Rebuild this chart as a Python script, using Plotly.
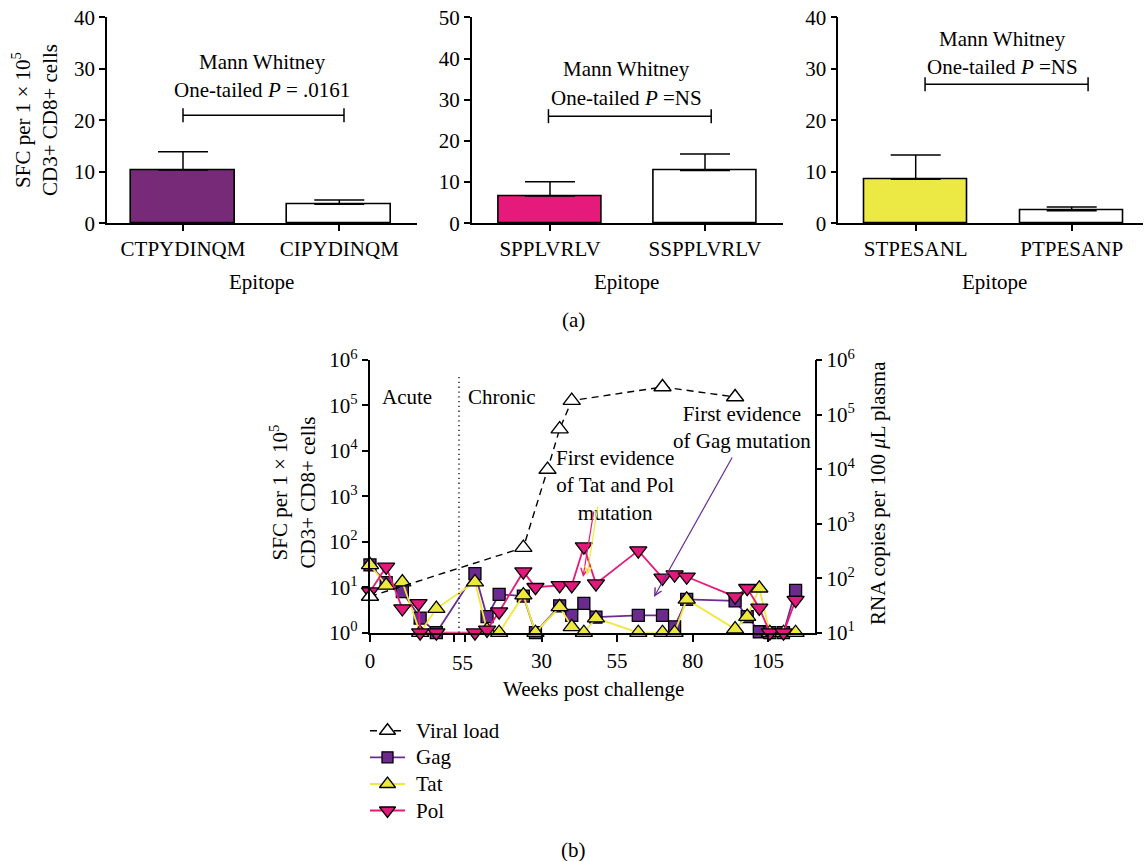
import plotly.graph_objects as go

W, H = 1145, 861
FONT = "Liberation Serif"
FS = 21

# ---------------- (a) data ----------------
EPI_1 = ["CTPYDINQM", "CIPYDINQM"]
MEAN_1 = [10.35, 3.7]
ERR_1 = [3.55, 0.83]
EPI_2 = ["SPPLVRLV", "SSPPLVRLV"]
MEAN_2 = [6.6, 12.8]
ERR_2 = [3.5, 4.0]
EPI_3 = ["STPESANL", "PTPESANP"]
MEAN_3 = [8.55, 2.45]
ERR_3 = [4.7, 0.72]
P_TEXT = ["One-tailed <i>P</i> = .0161", "One-tailed <i>P</i> =NS", "One-tailed <i>P</i> =NS"]
BRACKET_Y = [21, 26, 27]
BRACKET_X = [[0, 1.03], [-0.01, 1.04], [0.06, 1.105]]
YMAX = [40, 50, 40]
BAR_COLORS = ["#772a78", "#e51a7a", "#ede944"]

# ---------------- (b) data ----------------
ACUTE_DAYS = [0, 10, 20, 31, 41]
CHRONIC_WEEKS = [8, 12, 16, 24, 28, 36, 40, 44, 48, 62, 70, 74, 78, 94, 98, 102, 105.5, 110, 114]
GAG = [31, 12.6, 8, 2.1, 1,
       20, 2.25, 7, 6.4, 1, 3.9, 2.4, 4.4, 2.2, 2.4, 2.4, 1.35, 5.4, 5, 2.25, 1.05, 1, 1, 8.5]
TAT = [31, 11, 13, 1, 3.4,
       13, 1.15, 1, 6.7, 1, 3.7, 1.35, 1, 2.1, 1, 1, 1, 5.4, 1.2, 2.25, 9.5, 1, 1, 1]
POL_DAYS = [0, 10, 20, 30, 31, 41]
POL = [8, 28, 3.4, 4.4, 1, 1,
       1, 1.15, 2.9, 22, 10, 11, 11, 78, 12, 64, 16, 19, 17, 6.2, 9.5, 3.5, 1, 1, 5.2]
VL_DAYS = [0]
VL_WEEKS = [24, 32, 36, 40, 70, 94]
VL = [46, 363, 9800, 54000, 180000, 320000, 210000]
SERIES_NAMES = ["Viral load", "Gag", "Tat", "Pol"]

# broken x-axis: acute segment in days placed before the chronic (weeks) segment
ACUTE_ORIGIN = -26.7
DAY_UNIT = 0.535


def xpos(days, weeks):
    return [ACUTE_ORIGIN + d * DAY_UNIT for d in days] + list(weeks)


def PX(px):
    return px / W


def PY(py):
    return 1 - py / H


fig = go.Figure()

axis_common = dict(showline=True, linecolor="black", linewidth=1.5, ticks="outside",
                   tickcolor="black", tickwidth=1.5, ticklen=6, showgrid=False, zeroline=False,
                   automargin=False,
                   tickfont=dict(family=FONT, size=FS, color="black"))

panels = [
    (EPI_1, MEAN_1, ERR_1, (107, 417), (183, 339.3)),
    (EPI_2, MEAN_2, ERR_2, (471.7, 783), (550, 705)),
    (EPI_3, MEAN_3, ERR_3, (838.3, 1143), (915.7, 1071.7)),
]
y_top, y_bot = 17.3, 223.3
for i, (cats, means, errs, (d0, d1), (t0, t1)) in enumerate(panels):
    n = i + 1
    xa = "x" if n == 1 else f"x{n}"
    ya = "y" if n == 1 else f"y{n}"
    sp = t1 - t0
    fig.add_trace(go.Bar(
        x=[0, 1], y=means, width=0.663, xaxis=xa, yaxis=ya,
        marker=dict(color=[BAR_COLORS[i], "white"], line=dict(color="black", width=1.6)),
        error_y=dict(type="data", symmetric=False, array=errs, arrayminus=[0, 0],
                     color="black", thickness=1.5, width=25),
        showlegend=False, hoverinfo="skip"))
    fig.add_trace(go.Scatter(
        x=BRACKET_X[i], y=[BRACKET_Y[i]] * 2, xaxis=xa, yaxis=ya, mode="lines+markers",
        line=dict(color="black", width=1.5),
        marker=dict(symbol="line-ns-open", size=10, line=dict(color="black", width=1.5)),
        showlegend=False, hoverinfo="skip", cliponaxis=False))
    fig.layout[f"xaxis{n if n > 1 else ''}"] = dict(
        axis_common, domain=[PX(d0), PX(d1)], anchor=ya,
        range=[-(t0 - d0) / sp, 1 + (d1 - t1) / sp],
        tickvals=[0, 1], ticktext=cats)
    fig.layout[f"yaxis{n if n > 1 else ''}"] = dict(
        axis_common, domain=[PY(y_bot), PY(y_top)], anchor=xa,
        range=[0, YMAX[i]], dtick=10)

# ---------------- (b) ----------------
X0, X1 = 369.5, 814.5
YB, YT = 632.7, 360
xr = [30 - (541.5 - X0) / 3.025, 30 + (X1 - 541.5) / 3.025]
brk_l = 30 + (454 - 541.5) / 3.025
brk_r = 30 + (465 - 541.5) / 3.025

styles = [
    dict(line=dict(color="black", width=1.4, dash="7px,5px"),
         marker=dict(symbol="triangle-up", size=15, color="white", line=dict(color="black", width=1.4))),
    dict(line=dict(color="#6a2c91", width=1.8),
         marker=dict(symbol="square", size=12, color="#6a2a8e", line=dict(color="black", width=1.3))),
    dict(line=dict(color="#f0e83c", width=1.8),
         marker=dict(symbol="triangle-up", size=15, color="#ece83e", line=dict(color="black", width=1.3))),
    dict(line=dict(color="#e8197a", width=1.8),
         marker=dict(symbol="triangle-down", size=15, color="#e0197b", line=dict(color="black", width=1.3))),
]
series = [
    (xpos(VL_DAYS, VL_WEEKS), VL, "y5"),
    (xpos(ACUTE_DAYS, CHRONIC_WEEKS), GAG, "y4"),
    (xpos(ACUTE_DAYS, CHRONIC_WEEKS), TAT, "y4"),
    (xpos(POL_DAYS, CHRONIC_WEEKS), POL, "y4"),
]
for (xs, ys, yax), st, nm in zip(series, styles, SERIES_NAMES):
    fig.add_trace(go.Scatter(x=xs, y=ys, name=nm, xaxis="x4", yaxis=yax, mode="lines+markers",
                             cliponaxis=False, showlegend=False, **st))

fig.layout.xaxis4 = dict(axis_common, domain=[PX(X0), PX(X1)], anchor="y4", range=xr,
                         ticklen=8,
                         tickvals=[ACUTE_ORIGIN, brk_l, brk_r, 30, 55, 80, 105],
                         ticktext=["0", "", "", "30", "55", "80", "105"])
sup = lambda k: f"10<sup>{k}</sup>"
fig.layout.yaxis4 = dict(axis_common, domain=[PY(YB), PY(YT)], anchor="x4", type="log",
                         range=[0, 6], tickvals=[10 ** k for k in range(7)],
                         ticktext=[sup(k) for k in range(7)])
fig.layout.yaxis5 = dict(axis_common, overlaying="y4", side="right", anchor="x4", type="log",
                         range=[1, 6], tickvals=[10 ** k for k in range(1, 7)],
                         ticktext=[sup(k) for k in range(1, 7)])

# ---- custom legend on a hidden pixel-unit axis ----
LG_X0, LG_X1, LG_Y0, LG_Y1 = 360, 520, 715, 830
fig.layout.xaxis6 = dict(domain=[PX(LG_X0), PX(LG_X1)], range=[LG_X0, LG_X1], visible=False,
                         anchor="y6", fixedrange=True)
fig.layout.yaxis6 = dict(domain=[PY(LG_Y1), PY(LG_Y0)], range=[LG_Y1, LG_Y0], visible=False,
                         anchor="x6", fixedrange=True)
legend_rows = [730.7, 757.3, 784, 810.5]
for st, ry in zip(styles, legend_rows):
    fig.add_trace(go.Scatter(x=[370, 405], y=[ry, ry], xaxis="x6", yaxis="y6", mode="lines",
                             line=st["line"], showlegend=False, hoverinfo="skip", cliponaxis=False))
    fig.add_trace(go.Scatter(x=[387.5], y=[ry], xaxis="x6", yaxis="y6", mode="markers",
                             marker=dict(st["marker"], size=st["marker"]["size"] - 1),
                             showlegend=False, hoverinfo="skip", cliponaxis=False))

shapes = [dict(type="line", xref="x4", yref="paper", x0=ACUTE_ORIGIN + 55 * DAY_UNIT,
               x1=ACUTE_ORIGIN + 55 * DAY_UNIT, y0=PY(YB), y1=PY(376.7),
               line=dict(color="black", width=1.3, dash="1.3px,3.5px"))]

ann = []


def txt(x, y, s, size=FS, angle=0, xanchor="center"):
    ann.append(dict(x=PX(x), y=PY(y), xref="paper", yref="paper", text=s, showarrow=False,
                    textangle=angle, xanchor=xanchor, yanchor="middle",
                    font=dict(family=FONT, size=size, color="black")))


# (a) texts
ytitle = "SFC per 1 × 10<sup>5</sup><br>CD3+ CD8+ cells"
txt(35, 120, ytitle, angle=-90)
for (cx, y1, y2), p in zip([(262, 62.3, 90), (626.7, 69.3, 98.3), (1002.3, 39.3, 67.3)], P_TEXT):
    txt(cx, y1, "Mann Whitney")
    txt(cx, y2, p)
for cx in [261, 626.7, 994]:
    txt(cx, 282, "Epitope")
txt(573, 320, "(a)")

# (b) texts
txt(292.5, 493, ytitle, angle=-90)
txt(878, 493, "RNA copies per 100 <i>μ</i>L plasma", angle=-90)
txt(593, 689, "Weeks post challenge")
txt(462, 662.7, "55")
txt(406.7, 396.7, "Acute")
txt(502.3, 396.7, "Chronic")
txt(615, 485, "First evidence<br>of Tat and Pol<br>mutation")
txt(741.7, 427.7, "First evidence<br>of Gag mutation")
txt(573, 850, "(b)")
for nm, ry in zip(SERIES_NAMES, legend_rows):
    txt(414, ry, nm, xanchor="left")


def arrow(hx, hy, tx, ty, color):
    ann.append(dict(x=PX(hx), y=PY(hy), xref="paper", yref="paper", ax=tx - hx, ay=ty - hy,
                    axref="pixel", ayref="pixel", text="", showarrow=True, arrowhead=5,
                    arrowsize=1.2, arrowwidth=1.2, arrowcolor=color))


arrow(583, 577, 594, 510, "#e8197a")
arrow(587, 575, 598, 505, "#f0e83c")
arrow(654, 597, 733, 456, "#6a2c91")

fig.update_layout(
    width=W, height=H, autosize=False, margin=dict(l=0, r=0, t=0, b=0, pad=0, autoexpand=False),
    paper_bgcolor="white", plot_bgcolor="rgba(0,0,0,0)",
    font=dict(family=FONT, size=FS, color="black"),
    bargap=0, shapes=shapes, annotations=ann, showlegend=False,
)

fig.write_html("out.html", config={"displayModeBar": False},
               post_script="document.body.style.margin='0px';document.body.style.overflow='hidden';")
